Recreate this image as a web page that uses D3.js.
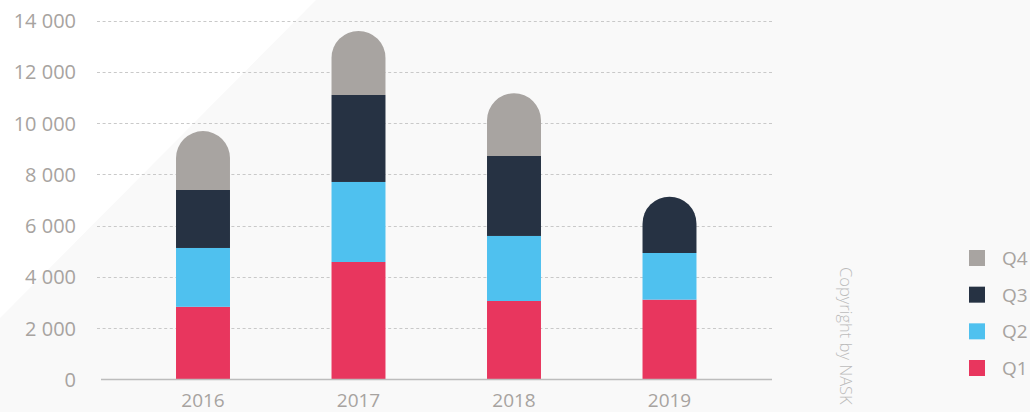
<!DOCTYPE html>
<html>
<head>
<meta charset="utf-8">
<script src="https://cdn.jsdelivr.net/npm/d3@7"></script>
<style>
  html, body { margin: 0; padding: 0; background: #f9f9f9; }
  svg { display: block; font-family: "Open Sans", "Noto Sans", sans-serif; }
</style>
</head>
<body>
<svg id="chart" width="1030" height="412"></svg>
<script>
const years = ["2016", "2017", "2018", "2019"];
const quarters = ["Q1", "Q2", "Q3", "Q4"];
const q1 = [2830, 4580, 3057, 3110];
const q2 = [2297, 3124, 2539, 1822];
const q3 = [2265, 3397, 3123, 2198];
const q4 = [2298, 2499, 2449, 0];
const yTicks = [0, 2000, 4000, 6000, 8000, 10000, 12000, 14000];
const colors = ["#e8365e", "#4fc1ef", "#263243", "#a8a4a1"];
const copyright = "Copyright by NASK";

const rows = years.map((y, i) => ({ year: y, Q1: q1[i], Q2: q2[i], Q3: q3[i], Q4: q4[i] }));

const svg = d3.select("#chart");
const W = 1030, H = 412;

// background with light diagonal
svg.append("rect").attr("width", W).attr("height", H).attr("fill", "#f9f9f9");
svg.append("path").attr("d", "M0,0 L316,0 L0,318 Z").attr("fill", "#ffffff");

const y = d3.scaleLinear().domain([0, 14000]).range([379.3, 20.7]);
const x = d3.scaleBand().domain(years).range([125.25, 747.25]).paddingInner(0.653).paddingOuter(0.3265);
const color = d3.scaleOrdinal().domain(quarters).range(colors);

const fmt = d3.formatLocale({ decimal: ",", thousands: "\u00a0", grouping: [3], currency: ["", ""] }).format(",d");

// gridlines
const grid = svg.append("g");
grid.selectAll("line").data(yTicks.filter(d => d > 0)).join("line")
  .attr("x1", 97).attr("x2", 772)
  .attr("y1", d => Math.round(y(d)) + 0.5).attr("y2", d => Math.round(y(d)) + 0.5)
  .attr("stroke", "#c9c9c9").attr("stroke-width", 1).attr("stroke-dasharray", "3,2.6");

// y labels
svg.append("g").selectAll("text").data(yTicks).join("text")
  .attr("x", 76).attr("y", d => y(d) + 7.5)
  .attr("text-anchor", "end").attr("font-size", 20).attr("fill", "#a7a3a0")
  .text(d => fmt(d));

// stacked bars
const stack = d3.stack().keys(quarters)(rows);
const topKey = rows.map(r => { let k = null; quarters.forEach(q => { if (r[q] > 0) k = q; }); return k; });

stack.forEach(layer => {
  const g = svg.append("g").attr("fill", color(layer.key));
  layer.forEach((d, i) => {
    if (d[1] - d[0] <= 0) return;
    const x0 = x(years[i]), bw = x.bandwidth(), x1 = x0 + bw;
    const yb = y(d[0]), yt = y(d[1]);
    if (topKey[i] === layer.key) {
      const r = bw / 2;
      g.append("path").attr("d",
        `M${x0},${yb} L${x0},${yt + r} A${r},${r} 0 0 1 ${x1},${yt + r} L${x1},${yb} Z`);
    } else {
      g.append("rect").attr("x", x0).attr("y", yt).attr("width", bw).attr("height", yb - yt);
    }
  });
});

// baseline
svg.append("line").attr("x1", 101).attr("x2", 772).attr("y1", 379.5).attr("y2", 379.5)
  .attr("stroke", "#bdbdbd").attr("stroke-width", 1.6);

// x labels
svg.append("g").selectAll("text").data(years).join("text")
  .attr("x", d => x(d) + x.bandwidth() / 2).attr("y", 406.5)
  .attr("text-anchor", "middle").attr("font-size", 19).attr("fill", "#a7a3a0")
  .text(d => d);

// legend
const ly = d3.scalePoint().domain(quarters.slice().reverse()).range([258, 368]);
const leg = svg.append("g");
quarters.forEach(q => {
  leg.append("rect").attr("x", 969).attr("y", ly(q) - 8).attr("width", 16).attr("height", 16).attr("fill", color(q));
  leg.append("text").attr("x", 1002).attr("y", ly(q) + 7).attr("font-size", 19).attr("fill", "#a7a3a0").text(q);
});

// copyright
svg.append("text")
  .attr("transform", "translate(840,267) rotate(90)")
  .attr("font-size", 16.5).attr("font-weight", 300).attr("fill", "#bcbcbc")
  .text(copyright);
</script>
</body>
</html>
